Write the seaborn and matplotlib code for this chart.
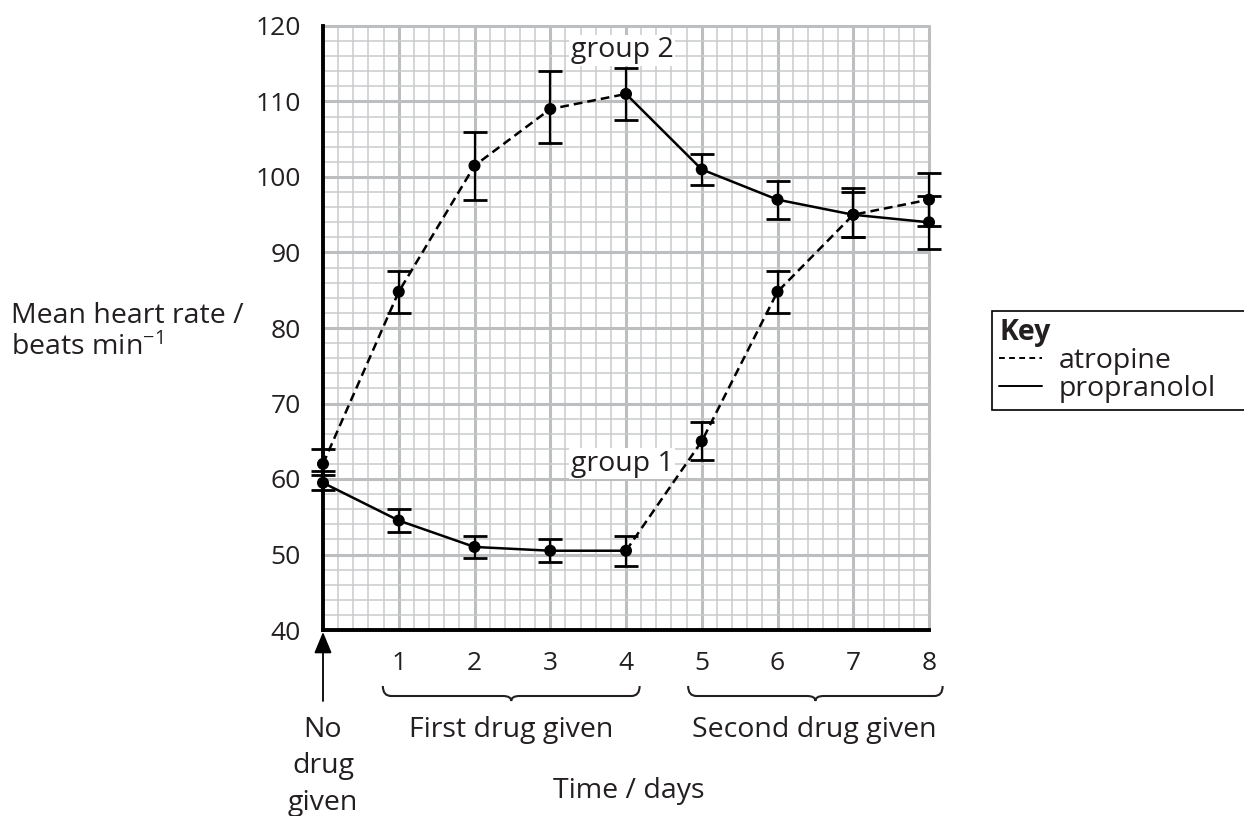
import numpy as np
import pandas as pd
import matplotlib
matplotlib.use("Agg")
import matplotlib.pyplot as plt
import seaborn as sns
from matplotlib.path import Path
from matplotlib.patches import PathPatch
from matplotlib.ticker import MultipleLocator
from matplotlib.lines import Line2D
import matplotlib.transforms as mtransforms

# ---------------- data ----------------
days = [0, 1, 2, 3, 4, 5, 6, 7, 8]
group1_mean = [59.5, 54.5, 51.0, 50.5, 50.5, 65.0, 84.8, 95.0, 97.0]
group1_low = [58.5, 53.0, 49.5, 49.0, 48.5, 62.5, 82.0, 92.0, 93.5]
group1_high = [61.0, 56.0, 52.5, 52.0, 52.5, 67.5, 87.5, 98.5, 100.5]
group2_mean = [62.0, 84.8, 101.5, 109.0, 111.0, 101.0, 97.0, 95.0, 94.0]
group2_low = [60.5, 82.0, 97.0, 104.5, 107.5, 99.0, 94.5, 92.0, 90.5]
group2_high = [64.0, 87.5, 106.0, 114.0, 114.5, 103.0, 99.5, 98.0, 97.5]
group1_drugs = ["propranolol", "atropine"]
group2_drugs = ["atropine", "propranolol"]
switch_day = 4
x_ticks = [1, 2, 3, 4, 5, 6, 7, 8]
x_tick_labels = ["1", "2", "3", "4", "5", "6", "7", "8"]
y_ticks = [40, 50, 60, 70, 80, 90, 100, 110, 120]
y_tick_labels = ["40", "50", "60", "70", "80", "90", "100", "110", "120"]
group_labels = ["group 1", "group 2"]
period_labels = ["First drug given", "Second drug given"]
no_drug_lines = ["No", "drug", "given"]
y_label_lines = ["Mean heart rate /", "beats min$^{-1}$"]
x_label = "Time / days"
key_labels = ["atropine", "propranolol"]

# ---------------- build long table ----------------
rows = []
for gname, means, drugs in [("group 1", group1_mean, group1_drugs),
                            ("group 2", group2_mean, group2_drugs)]:
    for d, m in zip(days, means):
        if d <= switch_day:
            rows.append(dict(group=gname, segment=gname + "a", drug=drugs[0], day=d, rate=m))
        if d >= switch_day:
            rows.append(dict(group=gname, segment=gname + "b", drug=drugs[1], day=d, rate=m))
df = pd.DataFrame(rows)

# ---------------- style ----------------
sns.set_style("white")
plt.rcParams["font.family"] = ["Open Sans", "DejaVu Sans"]
plt.rcParams["mathtext.fontset"] = "custom"
plt.rcParams["mathtext.rm"] = "Open Sans"
plt.rcParams["mathtext.it"] = "Open Sans"
FS = 20.5
FS_TICK = 19
FS_KEY = 20.5
TXT = "#231f20"

W, H = 1244, 816
fig = plt.figure(figsize=(W / 100, H / 100), dpi=100)
L, R, T, B = 323, 929, 26, 630
ax = fig.add_axes([L / W, 1 - B / H, (R - L) / W, (B - T) / H])

dash_pattern = (3.5, 2.0)
sns.lineplot(data=df, x="day", y="rate", style="drug", units="segment",
             estimator=None, sort=False, color="black", lw=1.8,
             dashes={"atropine": dash_pattern, "propranolol": ""},
             legend=False, ax=ax, zorder=4)

for means, lo, hi in [(group1_mean, group1_low, group1_high),
                      (group2_mean, group2_low, group2_high)]:
    means_a = np.array(means)
    ax.errorbar(days, means_a, yerr=[means_a - np.array(lo), np.array(hi) - means_a],
                fmt="none", ecolor="black", elinewidth=1.6, capsize=8.5,
                capthick=2.0, zorder=5, clip_on=False)
    sns.scatterplot(x=days, y=means, color="black", s=75, edgecolor="none",
                    ax=ax, zorder=6, clip_on=False)

ax.set_xlim(0, 8)
ax.set_ylim(40, 120)
ax.set_xticks(x_ticks)
ax.set_xticklabels(x_tick_labels)
ax.set_yticks(y_ticks)
ax.set_yticklabels(y_tick_labels)
ax.xaxis.set_minor_locator(MultipleLocator(0.2))
ax.yaxis.set_minor_locator(MultipleLocator(2))
ax.grid(which="major", color="#bdbec0", lw=2.2)
ax.grid(which="minor", color="#c9cacc", lw=1.1)
ax.set_axisbelow(True)
for gl in ax.get_xgridlines() + ax.get_ygridlines():
    gl.set_clip_on(False)
ax.tick_params(which="minor", length=0)
ax.tick_params(axis="x", which="major", length=10, width=1.6, direction="out",
               pad=5, labelsize=FS_TICK, colors="black", labelcolor=TXT)
ax.tick_params(axis="y", which="major", length=11, width=1.6, direction="out",
               pad=5, labelsize=FS_TICK, colors="black", labelcolor=TXT)
for s in ["top", "right"]:
    ax.spines[s].set_visible(False)
for s in ["left", "bottom"]:
    ax.spines[s].set_linewidth(2.8)
    ax.spines[s].set_color("black")
    ax.spines[s].set_zorder(7)
ax.set_xlabel("")
ax.set_ylabel("")

# group labels
ax.text(3.95, 116.8, group_labels[1], ha="center", va="center", fontsize=FS, color=TXT,
        bbox=dict(boxstyle="square,pad=0.05", fc="white", ec="none"), zorder=3)
ax.text(3.95, 62.0, group_labels[0], ha="center", va="center", fontsize=FS, color=TXT,
        bbox=dict(boxstyle="square,pad=0.05", fc="white", ec="none"), zorder=3)

# braces below axis
btr = mtransforms.blended_transform_factory(ax.transData, ax.transAxes)
def axy(py):
    return (B - py) / (B - T)

def brace(x0, x1, yt, yb, ytip, r=0.11):
    xm = (x0 + x1) / 2
    verts = [(x0, yt), (x0, yb), (x0 + r, yb), (xm - r, yb), (xm, yb), (xm, ytip),
             (xm, yb), (xm + r, yb), (x1 - r, yb), (x1, yb), (x1, yt)]
    codes = [Path.MOVETO, Path.CURVE3, Path.CURVE3, Path.LINETO, Path.CURVE3, Path.CURVE3,
             Path.CURVE3, Path.CURVE3, Path.LINETO, Path.CURVE3, Path.CURVE3]
    p = PathPatch(Path(verts, codes), fc="none", ec=TXT, lw=1.5,
                  transform=btr, clip_on=False)
    ax.add_patch(p)

brace(0.79, 4.18, axy(686), axy(696), axy(701))
brace(4.82, 8.18, axy(686), axy(696), axy(701))

ax.text(2.49, axy(737), period_labels[0], transform=btr, ha="center", va="baseline",
        fontsize=FS, color=TXT)
ax.text(6.48, axy(737), period_labels[1], transform=btr, ha="center", va="baseline",
        fontsize=FS, color=TXT)
for line, by in zip(no_drug_lines, [737, 773, 810]):
    ax.text(0, axy(by), line, transform=btr, ha="center", va="baseline",
            fontsize=FS, color=TXT)
ax.text(4.03, axy(798), x_label, transform=btr, ha="center", va="baseline",
        fontsize=FS, color=TXT)

# arrow at day 0
ax.annotate("", xy=(0, axy(632)), xytext=(0, axy(701)), xycoords=btr, textcoords=btr,
            arrowprops=dict(arrowstyle="-|>,head_length=0.65,head_width=0.27",
                            mutation_scale=20, lw=1.3, color="black",
                            shrinkA=0, shrinkB=0),
            annotation_clip=False)

# y label
for line, by in zip(y_label_lines, [323, 355]):
    fig.text(11 / W, 1 - by / H, line, ha="left", va="baseline", fontsize=FS, color=TXT)

# key
handles = [Line2D([], [], color="black", lw=1.4, dashes=(3.0, 2.2)),
           Line2D([], [], color="black", lw=1.4)]
leg = fig.legend(handles, key_labels, title="Key",
                 loc="upper left", bbox_to_anchor=(992 / W, 1 - 311 / H, 300 / W, 0.0),
                 mode="expand",
                 fontsize=FS_KEY, title_fontproperties={"weight": "bold", "size": FS_KEY},
                 frameon=True, fancybox=False, edgecolor="black", framealpha=1,
                 handlelength=1.5, handletextpad=0.6, labelspacing=0.0,
                 borderpad=0.25, borderaxespad=0, alignment="left")
leg.get_frame().set_linewidth(1.2)
for t in leg.get_texts():
    t.set_color(TXT)
leg.get_title().set_color(TXT)

fig.savefig("out.png", dpi=100)
